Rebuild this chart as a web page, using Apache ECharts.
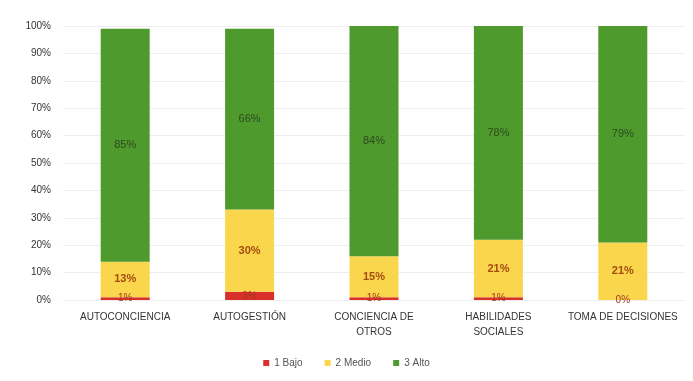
<!DOCTYPE html>
<html><head><meta charset="utf-8">
<script src="https://cdn.jsdelivr.net/npm/echarts@6/dist/echarts.min.js"></script>
<style>html,body{margin:0;padding:0;background:#fff}#c{width:693px;height:381px}</style>
</head><body><div id="c"></div>
<script>
const categories = ['AUTOCONCIENCIA','AUTOGESTIÓN','CONCIENCIA DE\nOTROS','HABILIDADES\nSOCIALES','TOMA DE DECISIONES'];
const seriesNames = ['1 Bajo','2 Medio','3 Alto'];
const bajo = [1, 3, 1, 1, 0];
const medio = [13, 30, 15, 21, 21];
const alto = [85, 66, 84, 78, 79];
const yTicks = [0,10,20,30,40,50,60,70,80,90,100];

const chart = echarts.init(document.getElementById('c'));
const font = 'Liberation Sans, Arial, sans-serif';
chart.setOption({
  animation: false,
  textStyle: {fontFamily: font},
  grid: {left: 63, right: 8, top: 26, bottom: 81},
  legend: {
    bottom: 8, left: 'center', itemWidth: 6, itemHeight: 6, itemGap: 22,
    icon: 'rect',
    textStyle: {fontSize: 10, color: '#555', fontFamily: font},
    data: seriesNames
  },
  xAxis: {
    type: 'category', data: categories,
    axisLine: {show: false}, axisTick: {show: false},
    axisLabel: {fontSize: 10, color: '#333', margin: 10, lineHeight: 15, interval: 0}
  },
  yAxis: {
    type: 'value', min: 0, max: 100, interval: 10,
    axisLabel: {formatter: v => yTicks.includes(v) ? v + '%' : '', fontSize: 10, color: '#333', margin: 12},
    splitLine: {lineStyle: {color: '#eeeeee'}},
    axisLine: {show: false}, axisTick: {show: false}
  },
  series: [
    {name: seriesNames[0], type: 'bar', stack: 'a', data: bajo, barWidth: 49,
     itemStyle: {color: '#d9302b'},
     label: {show: true, position: 'inside', formatter: '{c}%', color: '#a33a20', fontSize: 10,
       offset: [0, 0]}},
    {name: seriesNames[1], type: 'bar', stack: 'a', data: medio, barWidth: 49,
     itemStyle: {color: '#f9d64c'},
     label: {show: true, position: 'inside', formatter: '{c}%', color: '#a54a10', fontSize: 11, fontWeight: 'bold'}},
    {name: seriesNames[2], type: 'bar', stack: 'a', data: alto, barWidth: 49,
     itemStyle: {color: '#4f9a2c'},
     label: {show: true, position: 'inside', formatter: '{c}%', color: '#2e4a20', fontSize: 11}}
  ]
});
</script></body></html>
